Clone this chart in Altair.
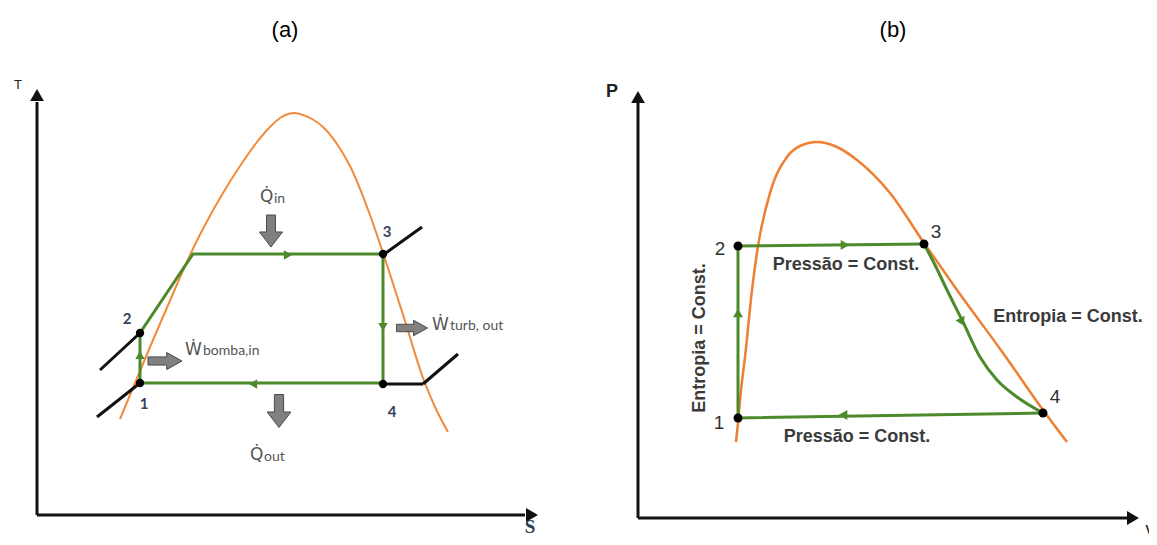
import altair as alt
import pandas as pd

# ---------------- Panel (a): T-s diagram (units: S right, T up from axis origin) ----------------
a_dome_s = [83, 113, 141, 153, 168, 186, 203, 220, 233, 243, 251, 258, 266, 275, 286, 300, 313, 333, 346, 368, 386, 398, 411]
a_dome_t = [96, 168, 233, 260, 290, 322, 349, 373, 388, 397, 401, 402, 400, 396, 388, 371, 349, 300, 262, 194, 137, 108, 83]

a_cycle_s = [103, 103, 156, 346, 346, 103]
a_cycle_t = [132, 182, 261, 261, 132, 132]

a_pts_s = [103, 103, 346, 346]
a_pts_t = [132, 182, 261, 131]
a_pts_lab = ["1", "2", "3", "4"]
a_lab_s = [107, 90, 350, 355]
a_lab_t = [111, 196, 283, 103]

a_iso_s = [60, 63, 346, 346, 386]
a_iso_t = [98, 145, 260, 131, 131]
a_iso_s2 = [103, 103, 385, 386, 421]
a_iso_t2 = [132, 182, 288, 131, 161]

a_dir_s = [103, 251, 346, 216]
a_dir_t = [160, 260, 188, 131]
a_dir_shape = ["triangle-up", "triangle-right", "triangle-down", "triangle-left"]

a_blk_s = [234, 242, 128, 375]
a_blk_t = [284, 104, 154, 187]
a_blk_dir = ["down", "down", "right", "right"]
a_blk_size = [1024, 1089, 1156, 961]

a_main_txt = ["Q\u0307", "Q\u0307", "\u1E86", "\u1E86"]
a_main_s = [223, 213, 148, 395]
a_main_t = [318, 60, 165, 190]
a_sub_txt = ["in", "out", "bomba,in", "turb, out"]
a_sub_s = [237, 227, 166, 413]
a_sub_t = [316, 58, 164, 189]

# ---------------- Panel (b): P-v diagram ----------------
b_dome_v = [98, 100, 103, 107, 114, 120, 132, 149, 162, 179, 199, 219, 252, 286, 319, 365, 405, 429]
b_dome_p = [76, 95, 128, 161, 228, 272, 325, 361, 372, 376, 371, 358, 325, 275, 228, 165, 108, 76]

b_path_v = [405, 100, 100, 286]
b_path_p = [105, 100, 272, 274]
b_exp_v = [286, 297, 309, 325, 342, 359, 379, 405]
b_exp_p = [274, 253, 228, 196, 161, 138, 121, 105]

b_pts_v = [100, 100, 286, 405]
b_pts_p = [100, 272, 274, 105]
b_lab_v = [81, 82, 298, 417]
b_lab_p = [95, 269, 286, 121]

b_dir_v = [100, 207, 324, 205]
b_dir_p = [205, 273, 196, 103]
b_dir_angle = [0, 0, 63, 0]
b_dir_shape = ["triangle-up", "triangle-right", "triangle-right", "triangle-left"]

b_note_txt = ["Press\u00e3o = Const.", "Press\u00e3o = Const.", "Entropia = Const."]
b_note_v = [208, 219, 430]
b_note_p = [253, 81, 201]

ORANGE_A = "#f08a3c"
ORANGE_B = "#ee7f33"
GREEN = "#4d8a2c"
BLACK = "#111111"

A_X = [-29, 546]
A_Y = [-19, 507]
B_X = [-50, 511]
B_Y = [-16, 510]

ARROW_DOWN = "M-0.28,-1 L0.28,-1 L0.28,0.06 L0.72,0.06 L0,1 L-0.72,0.06 L-0.28,0.06 Z"
ARROW_RIGHT = "M-1,-0.24 L0.1,-0.24 L0.1,-0.5 L1,0 L0.1,0.5 L0.1,0.24 L-1,0.24 Z"


def xy(ch, xd, yd, xf="x", yf="y"):
    return ch.encode(
        x=alt.X(f"{xf}:Q", scale=alt.Scale(domain=xd), axis=None),
        y=alt.Y(f"{yf}:Q", scale=alt.Scale(domain=yd), axis=None),
    )


def axes_layers(xd, yd, y_top, x_right, head_y, head_x):
    ax = pd.DataFrame({"x": [0, 0], "y": [0, 0], "x2": [0, x_right], "y2": [y_top, 0]})
    rules = xy(alt.Chart(ax).mark_rule(color=BLACK, strokeWidth=3), xd, yd).encode(x2="x2:Q", y2="y2:Q")
    hd = pd.DataFrame({"x": [0, head_x], "y": [head_y, 0], "s": ["triangle-up", "triangle-right"]})
    heads = xy(alt.Chart(hd).mark_point(filled=True, color=BLACK, opacity=1, size=190), xd, yd).encode(
        shape=alt.Shape("s:N", scale=None, legend=None)
    )
    return [rules, heads]


# ---------------- build panel (a) ----------------
la = []
la += axes_layers(A_X, A_Y, 413, 488, 420, 495)
dome_a = pd.DataFrame({"x": a_dome_s, "y": a_dome_t})
la.append(xy(alt.Chart(dome_a).mark_line(color=ORANGE_A, strokeWidth=2, interpolate="monotone"), A_X, A_Y))
iso_a = pd.DataFrame({"x": a_iso_s, "y": a_iso_t, "x2": a_iso_s2, "y2": a_iso_t2})
la.append(xy(alt.Chart(iso_a).mark_rule(color=BLACK, strokeWidth=3), A_X, A_Y).encode(x2="x2:Q", y2="y2:Q"))
cyc_a = pd.DataFrame({"x": a_cycle_s, "y": a_cycle_t, "o": list(range(len(a_cycle_s)))})
la.append(xy(alt.Chart(cyc_a).mark_line(color=GREEN, strokeWidth=3), A_X, A_Y).encode(order="o:Q"))
dir_a = pd.DataFrame({"x": a_dir_s, "y": a_dir_t, "s": a_dir_shape})
la.append(xy(alt.Chart(dir_a).mark_point(filled=True, color=GREEN, opacity=1, size=90), A_X, A_Y).encode(
    shape=alt.Shape("s:N", scale=None, legend=None)))
pts_a = pd.DataFrame({"x": a_pts_s, "y": a_pts_t})
la.append(xy(alt.Chart(pts_a).mark_circle(color="black", opacity=1, size=70), A_X, A_Y))
blk = pd.DataFrame({"x": a_blk_s, "y": a_blk_t, "d": a_blk_dir, "sz": a_blk_size})
blk["shape"] = blk["d"].map({"down": ARROW_DOWN, "right": ARROW_RIGHT})
la.append(xy(alt.Chart(blk).mark_point(filled=True, fill="#808080", stroke="#4a4a4a", strokeWidth=1, opacity=1), A_X, A_Y).encode(
    shape=alt.Shape("shape:N", scale=None, legend=None),
    size=alt.Size("sz:Q", scale=None, legend=None)))
lab_a = pd.DataFrame({"x": a_lab_s, "y": a_lab_t, "t": a_pts_lab})
la.append(xy(alt.Chart(lab_a).mark_text(font="Lato", fontSize=15, fontWeight="bold", color="#34445a"), A_X, A_Y).encode(text="t:N"))
main_a = pd.DataFrame({"x": a_main_s, "y": a_main_t, "t": a_main_txt})
la.append(xy(alt.Chart(main_a).mark_text(font="DejaVu Sans", fontSize=17, align="left", color="#555555"), A_X, A_Y).encode(text="t:N"))
sub_a = pd.DataFrame({"x": a_sub_s, "y": a_sub_t, "t": a_sub_txt})
la.append(xy(alt.Chart(sub_a).mark_text(font="Lato", fontSize=14, align="left", color="#555555"), A_X, A_Y).encode(text="t:N"))
ttl_a = pd.DataFrame({"x": [248, -19, 493], "y": [485, 430, -12], "t": ["(a)", "T", "S"]})
la.append(xy(alt.Chart(ttl_a.iloc[[0]]).mark_text(font="Liberation Sans", fontSize=22, color="black"), A_X, A_Y).encode(text="t:N"))
la.append(xy(alt.Chart(ttl_a.iloc[[1]]).mark_text(font="Liberation Sans", fontSize=13, color="#222222"), A_X, A_Y).encode(text="t:N"))
la.append(xy(alt.Chart(ttl_a.iloc[[2]]).mark_text(font="Liberation Serif", fontSize=19, fontWeight="bold", color="#2f3e55", clip=True), A_X, A_Y).encode(text="t:N"))

left = alt.layer(*la).properties(width=575, height=526)

# ---------------- build panel (b) ----------------
lb = []
lb += axes_layers(B_X, B_Y, 418, 492, 421, 495)
dome_b = pd.DataFrame({"x": b_dome_v, "y": b_dome_p})
lb.append(xy(alt.Chart(dome_b).mark_line(color=ORANGE_B, strokeWidth=2.5, interpolate="monotone"), B_X, B_Y))
path_b = pd.DataFrame({"x": b_path_v, "y": b_path_p, "o": list(range(len(b_path_v)))})
lb.append(xy(alt.Chart(path_b).mark_line(color=GREEN, strokeWidth=3), B_X, B_Y).encode(order="o:Q"))
exp_b = pd.DataFrame({"x": b_exp_v, "y": b_exp_p})
lb.append(xy(alt.Chart(exp_b).mark_line(color=GREEN, strokeWidth=3, interpolate="monotone"), B_X, B_Y))
dir_b = pd.DataFrame({"x": b_dir_v, "y": b_dir_p, "s": b_dir_shape, "a": b_dir_angle})
lb.append(xy(alt.Chart(dir_b).mark_point(filled=True, color=GREEN, opacity=1, size=100), B_X, B_Y).encode(
    shape=alt.Shape("s:N", scale=None, legend=None),
    angle=alt.Angle("a:Q", scale=None)))
pts_b = pd.DataFrame({"x": b_pts_v, "y": b_pts_p})
lb.append(xy(alt.Chart(pts_b).mark_circle(color="black", opacity=1, size=80), B_X, B_Y))
lab_b = pd.DataFrame({"x": b_lab_v, "y": b_lab_p, "t": a_pts_lab})
lb.append(xy(alt.Chart(lab_b).mark_text(font="Liberation Sans", fontSize=19, color="#333333"), B_X, B_Y).encode(text="t:N"))
note_b = pd.DataFrame({"x": b_note_v, "y": b_note_p, "t": b_note_txt})
lb.append(xy(alt.Chart(note_b).mark_text(font="Liberation Sans", fontSize=18, fontWeight="bold", color="#3a3a3a"), B_X, B_Y).encode(text="t:N"))
rot_b = pd.DataFrame({"x": [62], "y": [180], "t": ["Entropia = Const."]})
lb.append(xy(alt.Chart(rot_b).mark_text(font="Liberation Sans", fontSize=18, fontWeight="bold", color="#3a3a3a", angle=270), B_X, B_Y).encode(text="t:N"))
ttl_b = pd.DataFrame({"x": [255, -26, 512], "y": [488, 426, -12], "t": ["(b)", "P", "v"]})
lb.append(xy(alt.Chart(ttl_b.iloc[[0]]).mark_text(font="Liberation Sans", fontSize=22, color="black"), B_X, B_Y).encode(text="t:N"))
lb.append(xy(alt.Chart(ttl_b.iloc[[1]]).mark_text(font="Liberation Sans", fontSize=18, fontWeight="bold", color="#222222"), B_X, B_Y).encode(text="t:N"))
lb.append(xy(alt.Chart(ttl_b.iloc[[2]]).mark_text(font="Liberation Sans", fontSize=18, color="#222222", clip=True), B_X, B_Y).encode(text="t:N"))

right = alt.layer(*lb).properties(width=561, height=526)

chart = (
    alt.hconcat(left, right, spacing=5)
    .properties(padding=0, background="white")
    .configure_view(stroke=None)
)

chart.save("out.html", embed_options={"renderer": "svg", "actions": False})
